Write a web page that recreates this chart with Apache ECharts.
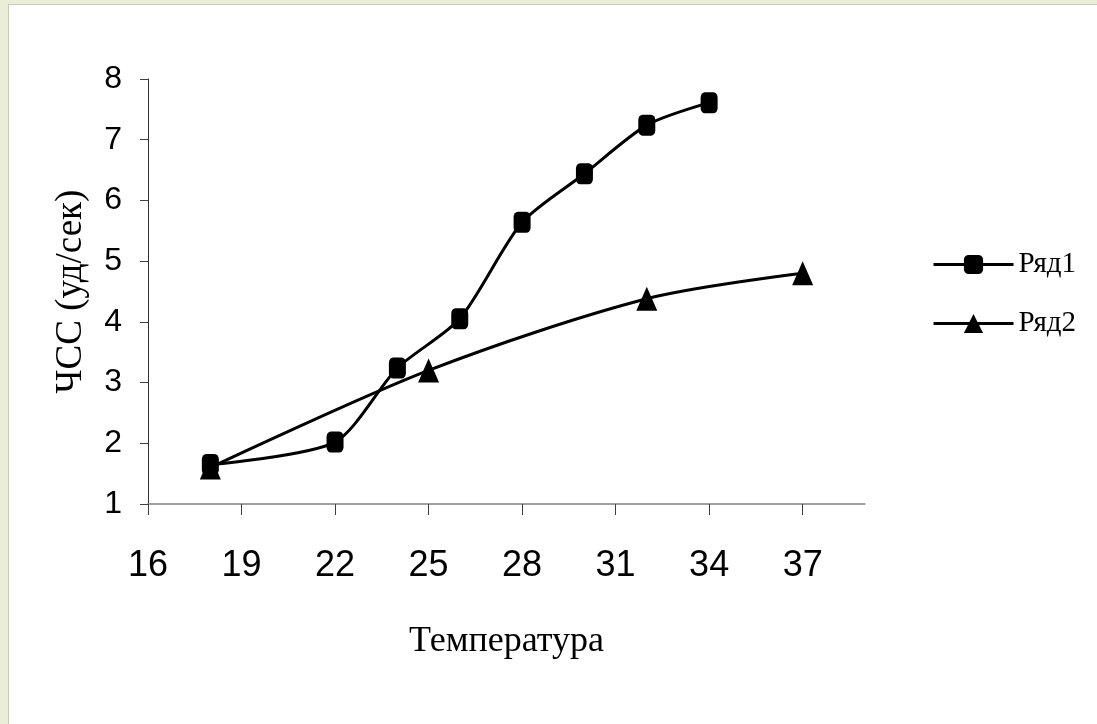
<!DOCTYPE html>
<html>
<head>
<meta charset="utf-8">
<script src="https://cdn.jsdelivr.net/npm/echarts@6/dist/echarts.min.js"></script>
<style>
  html, body { margin: 0; padding: 0; width: 1097px; height: 724px; overflow: hidden; background: #eaeed9; }
  #chart { position: absolute; left: 8px; top: 4px; width: 1089px; height: 720px; background: #ffffff;
           border-left: 1px solid #c6cab4; border-top: 1px solid #c6cab4; box-sizing: border-box; }
</style>
</head>
<body>
<div id="chart"></div>
<script>
// Data
const seriesNames = ['Ряд1', 'Ряд2'];
const row1X = [18, 22, 24, 26, 28, 30, 32, 34];
const row1Y = [1.65, 2.02, 3.24, 4.05, 5.64, 6.44, 7.24, 7.61];
const row2X = [18, 25, 32, 37];
const row2Y = [1.6, 3.2, 4.38, 4.8];
const xTicks = [16, 19, 22, 25, 28, 31, 34, 37];
const yTicks = [1, 2, 3, 4, 5, 6, 7, 8];
const xTitle = 'Температура';
const yTitle = 'ЧСС (уд/сек)';

const pairs = (xs, ys) => xs.map((x, i) => [x, ys[i]]);

const chart = echarts.init(document.getElementById('chart'), null, { renderer: 'canvas' });
const sans = "'Liberation Sans', Arial, sans-serif";
const serif = "'Liberation Serif', 'DejaVu Serif', serif";

chart.setOption({
  animation: false,
  backgroundColor: '#ffffff',
  grid: { left: 139, top: 74, width: 717, height: 425, containLabel: false },
  legend: {
    data: seriesNames,
    orient: 'vertical',
    left: 918,
    top: 240,
    itemWidth: 80,
    itemHeight: 24,
    itemGap: 30,
    lineStyle: { width: 3, color: '#000' },
    textStyle: { fontFamily: serif, fontSize: 29, color: '#000' }
  },
  xAxis: {
    type: 'value',
    min: 16, max: 39, interval: 3,
    name: xTitle,
    nameLocation: 'middle',
    nameGap: 120,
    nameTextStyle: { fontFamily: serif, fontSize: 36, color: '#000' },
    axisLine: { show: true, onZero: false, lineStyle: { color: '#808080', width: 1.5 } },
    axisTick: { show: true, length: 11, customValues: xTicks, lineStyle: { color: '#404040', width: 1 } },
    axisLabel: { customValues: xTicks, margin: 44, fontFamily: sans, fontSize: 36, color: '#000' },
    splitLine: { show: false }
  },
  yAxis: {
    type: 'value',
    min: 1, max: 8, interval: 1,
    name: yTitle,
    nameLocation: 'middle',
    nameGap: 58,
    nameRotate: 90,
    nameTextStyle: { fontFamily: serif, fontSize: 37, color: '#000' },
    axisLine: { show: true, onZero: false, lineStyle: { color: '#303030', width: 1 } },
    axisTick: { show: true, length: 8, customValues: yTicks, lineStyle: { color: '#404040', width: 1 } },
    axisLabel: { customValues: yTicks, margin: 26, fontFamily: sans, fontSize: 32, color: '#000' },
    splitLine: { show: false }
  },
  series: [
    {
      name: seriesNames[0],
      type: 'line',
      data: pairs(row1X, row1Y),
      smooth: 0.25,
      symbol: 'roundRect',
      symbolSize: [17, 21],
      lineStyle: { color: '#000', width: 3 },
      itemStyle: { color: '#000' },
      z: 3
    },
    {
      name: seriesNames[1],
      type: 'line',
      data: pairs(row2X, row2Y),
      smooth: 0.3,
      symbol: 'triangle',
      symbolSize: [21, 24],
      lineStyle: { color: '#000', width: 3 },
      itemStyle: { color: '#000' },
      z: 2
    }
  ]
});
</script>
</body>
</html>
